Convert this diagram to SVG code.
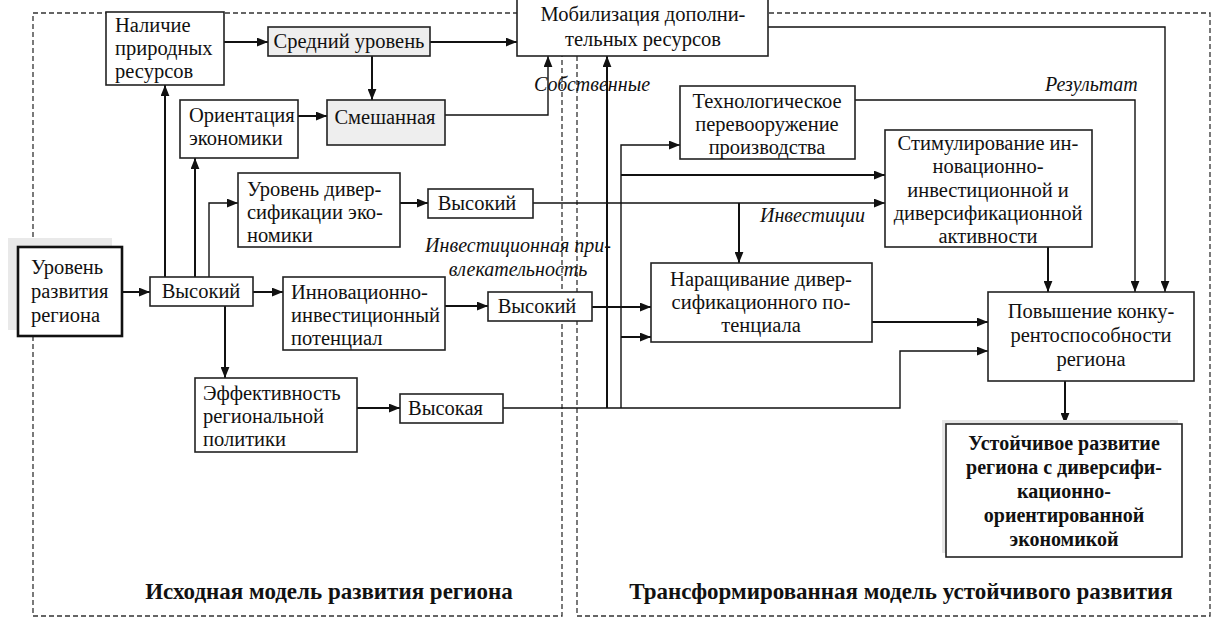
<svg xmlns="http://www.w3.org/2000/svg" width="1221" height="630" viewBox="0 0 1221 630">
<style>
text{font-family:"Liberation Serif","Times New Roman",serif;font-size:20.5px;fill:#111}
.c{text-anchor:middle}
.i{font-style:italic;font-size:20px}
.b{font-weight:bold;font-size:20px}
.t{font-weight:bold;font-size:23px;text-anchor:middle}
.box{fill:#fff;stroke:#222;stroke-width:1.6}
.gray{fill:#eeeeee;stroke:#222;stroke-width:1.6}
.frame{fill:none;stroke:#333;stroke-width:1.3;stroke-dasharray:5,3}
.ln{fill:none;stroke:#111;stroke-width:2}
.th{fill:none;stroke:#111;stroke-width:1.4}
</style>
<defs>
<marker id="a" viewBox="0 0 10 8" refX="10" refY="4" markerWidth="11" markerHeight="9" markerUnits="userSpaceOnUse" orient="auto"><path d="M0,0 L10,4 L0,8 z" fill="#111"/></marker>
</defs>
<rect width="1221" height="630" fill="#fff"/>
<g id="frames">
<rect class="frame" x="33" y="13" width="529" height="603"/>
<rect class="frame" x="577" y="13" width="633" height="603"/>
<text class="t" x="329" y="599">Исходная модель развития региона</text>
<text class="t" x="901" y="599">Трансформированная модель устойчивого развития</text>
</g>
<g id="connectors">
<path class="ln" d="M224,42 H268" marker-end="url(#a)"/>
<path class="ln" d="M430,42 H517" marker-end="url(#a)"/>
<path class="ln" d="M372,56 V100" marker-end="url(#a)"/>
<path class="ln" d="M298,116 H327" marker-end="url(#a)"/>
<path class="th" d="M445,115 H548 V56" marker-end="url(#a)"/>
<path class="ln" d="M122,292 H150" marker-end="url(#a)"/>
<path class="ln" d="M165,277 V85" marker-end="url(#a)"/>
<path class="ln" d="M195,277 V158" marker-end="url(#a)"/>
<path class="th" d="M209,277 V203 H238" marker-end="url(#a)"/>
<path class="ln" d="M400,203 H428" marker-end="url(#a)"/>
<path class="ln" d="M253,292 H283" marker-end="url(#a)"/>
<path class="ln" d="M225,306 V378" marker-end="url(#a)"/>
<path class="ln" d="M357,408 H400" marker-end="url(#a)"/>
<path class="ln" d="M445,306 H488" marker-end="url(#a)"/>
<path class="th" d="M533,203 H885" marker-end="url(#a)"/>
<path class="ln" d="M739,203 V263" marker-end="url(#a)"/>
<path class="th" d="M503,408 H900 V351 H988" marker-end="url(#a)"/>
<path class="ln" d="M607,408 V56" marker-end="url(#a)"/>
<path class="th" d="M621,408 V145 H680" marker-end="url(#a)"/>
<path class="ln" d="M621,175 H885" marker-end="url(#a)"/>
<path class="ln" d="M592,307 H651" marker-end="url(#a)"/>
<path class="ln" d="M621,337 H651" marker-end="url(#a)"/>
<path class="th" d="M768,27 H1165 V292" marker-end="url(#a)"/>
<path class="th" d="M855,100 H1135 V292" marker-end="url(#a)"/>
<path class="ln" d="M1048,247 V292" marker-end="url(#a)"/>
<path class="ln" d="M872,322 H988" marker-end="url(#a)"/>
<path class="ln" d="M1065,381 V424" marker-end="url(#a)"/>
<text class="i c" x="592" y="91">Собственные</text>
<text class="i" x="1045" y="91">Результат</text>
<text class="i" x="760" y="222">Инвестиции</text>
<text class="i c" x="518" y="252">Инвестиционная при-</text>
<text class="i c" x="518" y="276">влекательность</text>
</g>
<g id="n-mobil">
<rect class="box" x="517" y="-2" width="251" height="58"/>
<text class="c" x="643" y="21">Мобилизация дополни-</text>
<text class="c" x="643" y="46">тельных ресурсов</text>
</g>
<g id="n-nalichie">
<rect class="box" x="106" y="12" width="118" height="73"/>
<text x="115" y="32">Наличие</text>
<text x="115" y="55">природных</text>
<text x="115" y="78">ресурсов</text>
</g>
<g id="n-sredniy">
<rect class="gray" x="268" y="27" width="162" height="29"/>
<text class="c" x="349" y="48">Средний уровень</text>
</g>
<g id="n-orient">
<rect class="box" x="180" y="100" width="118" height="58"/>
<text x="189" y="122">Ориентация</text>
<text x="189" y="145">экономики</text>
</g>
<g id="n-smesh">
<rect class="gray" x="327" y="100" width="118" height="45"/>
<text class="c" x="385" y="124">Смешанная</text>
</g>
<g id="n-uroven">
<rect x="8" y="238" width="104" height="92" fill="#e9e9e9"/>
<rect x="18" y="247" width="104" height="89" fill="#fff" stroke="#111" stroke-width="2.6"/>
<text x="31" y="274">Уровень</text>
<text x="31" y="298">развития</text>
<text x="31" y="322">региона</text>
</g>
<g id="n-vys1">
<rect class="box" x="150" y="277" width="103" height="29"/>
<text class="c" x="201" y="298">Высокий</text>
</g>
<g id="n-divers">
<rect class="box" x="238" y="173" width="162" height="74"/>
<text x="247" y="196">Уровень дивер-</text>
<text x="247" y="219">сификации эко-</text>
<text x="247" y="242">номики</text>
</g>
<g id="n-vys2">
<rect class="box" x="428" y="189" width="105" height="29"/>
<text class="c" x="477" y="210">Высокий</text>
</g>
<g id="n-innov">
<rect class="box" x="283" y="277" width="162" height="73"/>
<text x="291" y="299">Инновационно-</text>
<text x="291" y="322">инвестиционный</text>
<text x="291" y="345">потенциал</text>
</g>
<g id="n-vys3">
<rect class="box" x="488" y="292" width="104" height="29"/>
<text class="c" x="537" y="313">Высокий</text>
</g>
<g id="n-effekt">
<rect class="box" x="195" y="378" width="162" height="74"/>
<text x="203" y="400">Эффективность</text>
<text x="203" y="423">региональной</text>
<text x="203" y="446">политики</text>
</g>
<g id="n-vys4">
<rect class="box" x="400" y="394" width="103" height="29"/>
<text x="408" y="415">Высокая</text>
</g>
<g id="n-tech">
<rect class="box" x="680" y="86" width="175" height="73"/>
<text class="c" x="767" y="108">Технологическое</text>
<text class="c" x="767" y="131">перевооружение</text>
<text class="c" x="767" y="154">производства</text>
</g>
<g id="n-stim">
<rect class="box" x="885" y="130" width="207" height="117"/>
<text class="c" x="988" y="150">Стимулирование ин-</text>
<text class="c" x="988" y="173">новационно-</text>
<text class="c" x="988" y="197">инвестиционной  и</text>
<text class="c" x="988" y="220">диверсификационной</text>
<text class="c" x="988" y="243">активности</text>
</g>
<g id="n-narash">
<rect class="box" x="651" y="263" width="221" height="79"/>
<text class="c" x="761" y="286">Наращивание дивер-</text>
<text class="c" x="761" y="309">сификационного по-</text>
<text class="c" x="761" y="332">тенциала</text>
</g>
<g id="n-povysh">
<rect class="box" x="988" y="292" width="206" height="89"/>
<text class="c" x="1091" y="318">Повышение конку-</text>
<text class="c" x="1091" y="342">рентоспособности</text>
<text class="c" x="1091" y="366">региона</text>
</g>
<g id="n-ustoich">
<rect x="942" y="420" width="236" height="133" fill="#e6e6e6"/>
<rect class="box" x="946" y="424" width="236" height="133"/>
<text class="c b" x="1064" y="450">Устойчивое развитие</text>
<text class="c b" x="1064" y="474">региона  с диверсифи-</text>
<text class="c b" x="1064" y="498">кационно-</text>
<text class="c b" x="1064" y="522">ориентированной</text>
<text class="c b" x="1064" y="546">экономикой</text>
</g>
</svg>
